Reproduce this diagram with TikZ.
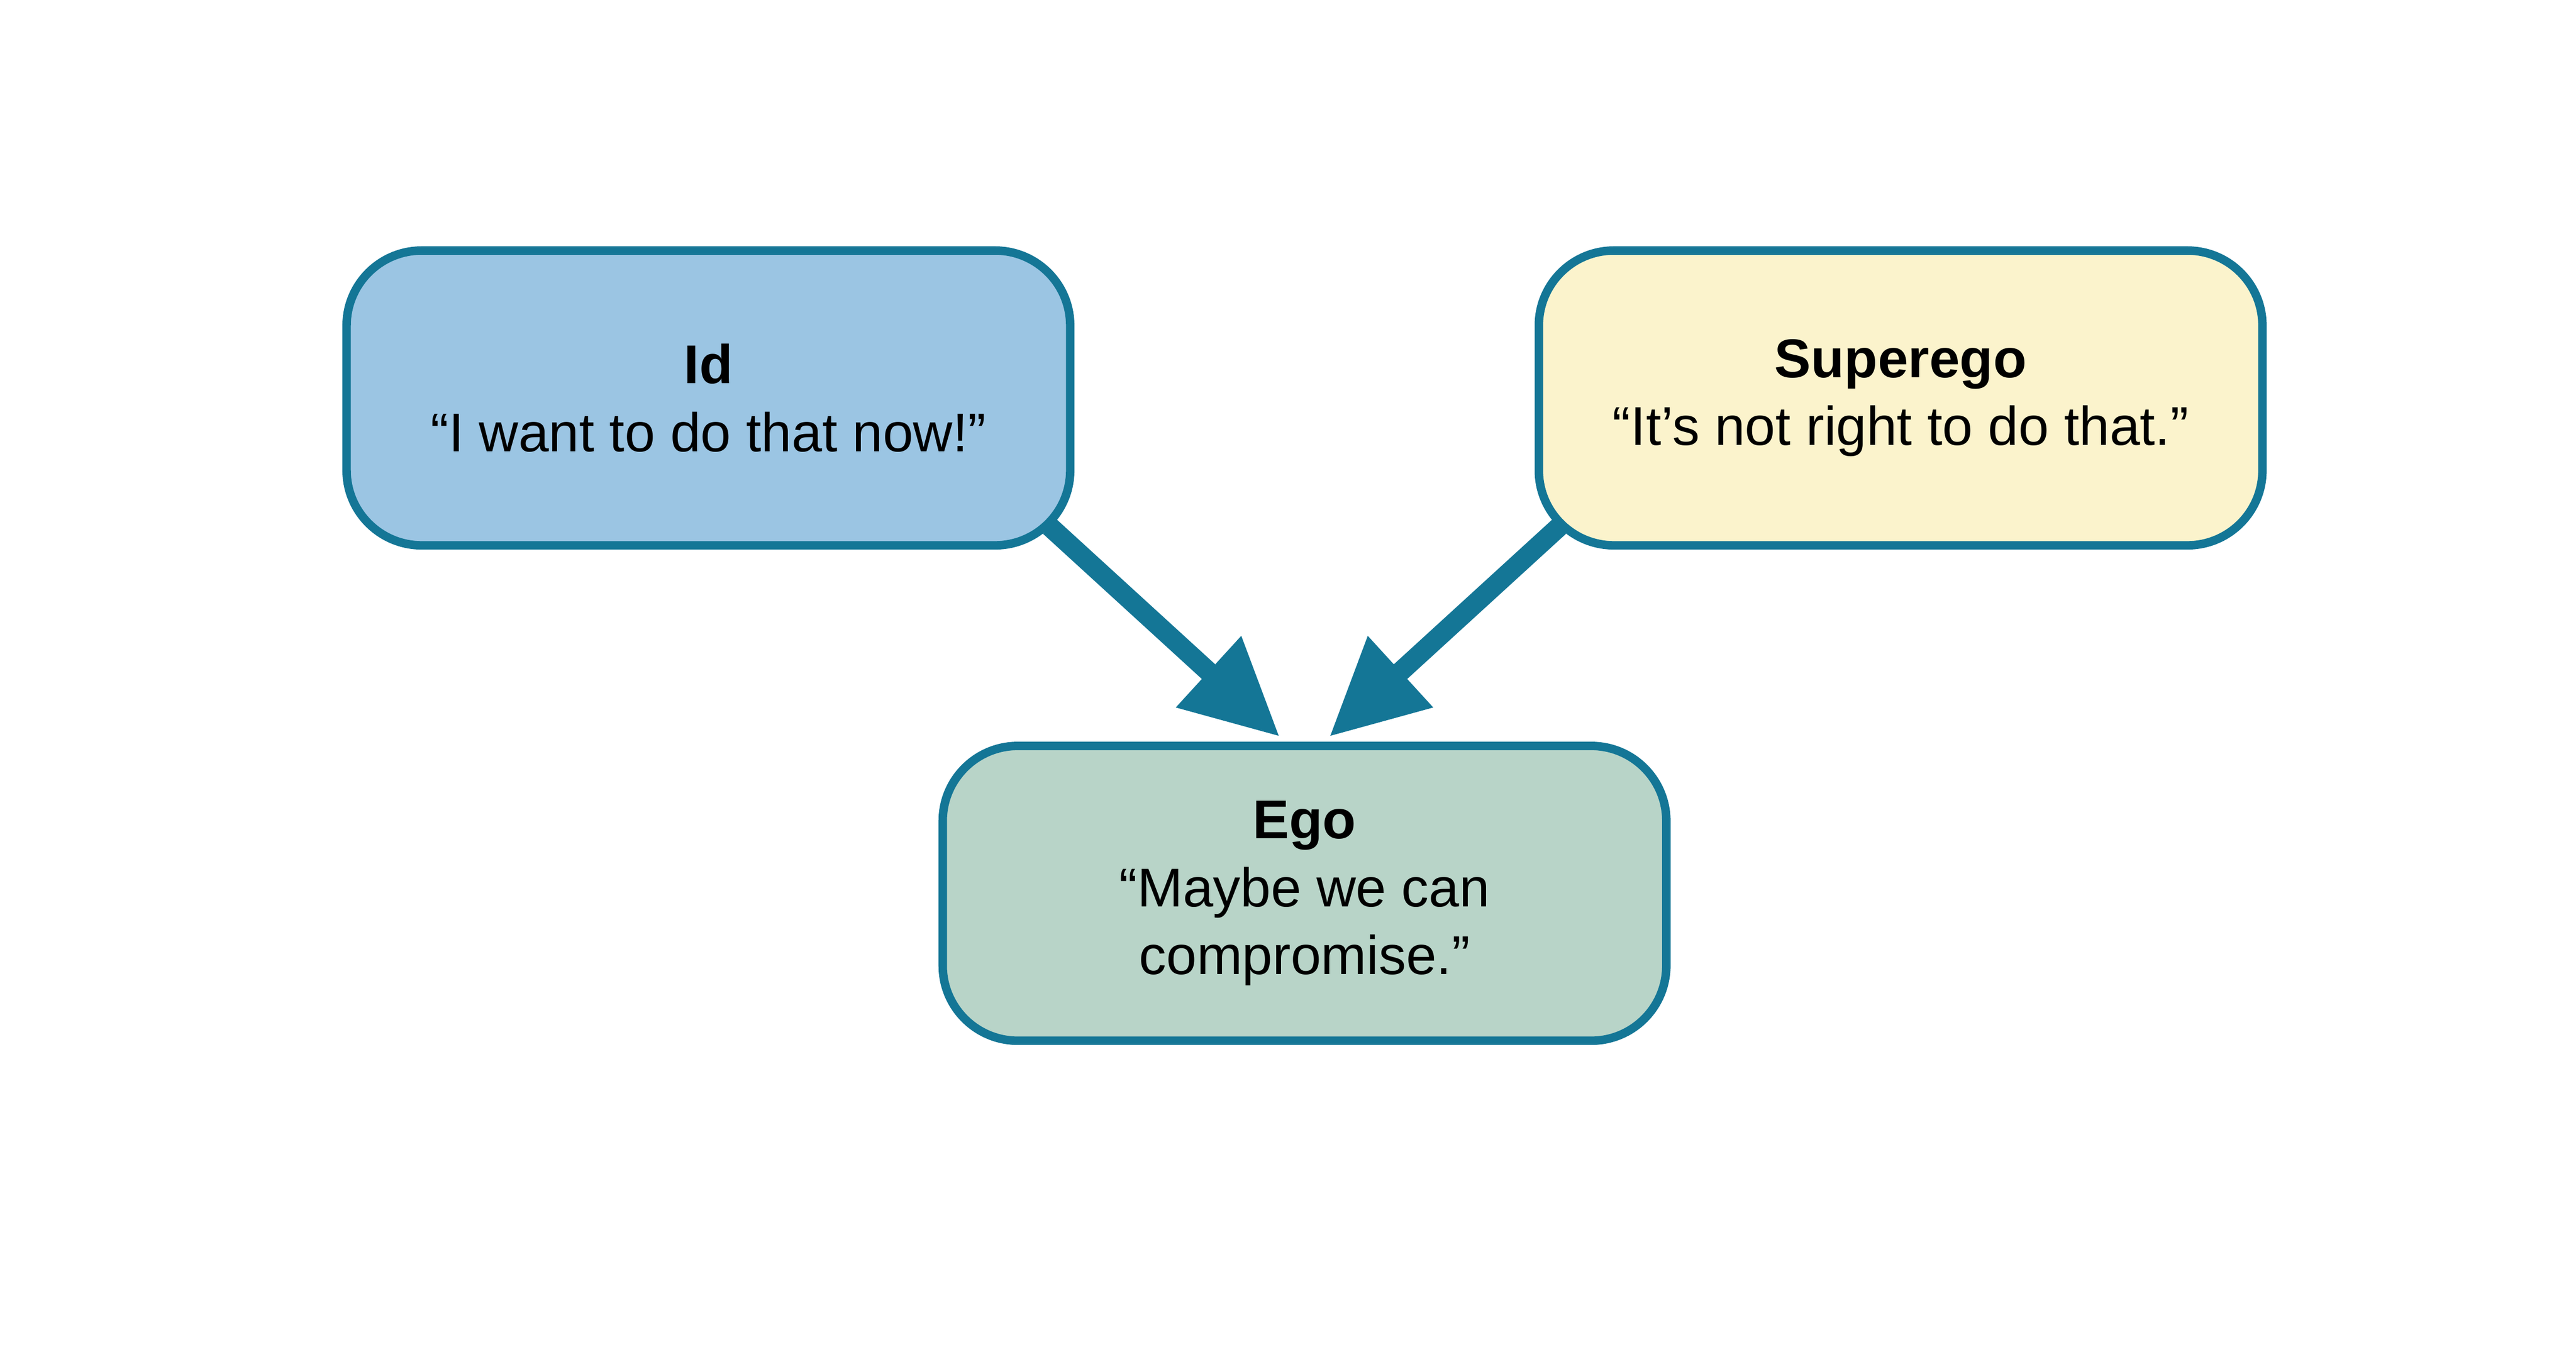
\documentclass[tikz,border=0pt]{standalone}
\usepackage{fontspec}
\setmainfont{Liberation Sans}
\usetikzlibrary{arrows.meta}
\definecolor{edge}{RGB}{20,118,150}
\definecolor{idfill}{RGB}{155,197,227}
\definecolor{superfill}{RGB}{251,243,204}
\definecolor{egofill}{RGB}{184,212,200}

\begin{document}
\begin{tikzpicture}[x=0.0308cm, y=-0.0308cm,
	part/.style={shape=rectangle, rounded corners=1.4cm, draw=edge, line width=4.5pt,
		minimum width=13.5cm, minimum height=5.5cm, align=center,
		font=\fontsize{29}{36}\selectfont},
	push/.style={draw=edge, line width=0.37cm, -{Triangle[length=1.8cm, width=1.7cm]}}]
	\useasboundingbox (0,0) rectangle (1560,829);
	\node [part, fill=idfill]		(id) at (429,241) {\textbf{Id}\\“I want to do that now!”};
	\node [part, fill=superfill]	(super) at (1151,241) {\textbf{Superego}\\“It’s not right to do that.”};
	\node [part, fill=egofill]		(ego) at (790,541) {\textbf{Ego}\\“Maybe we can\\compromise.”};
	\draw [push] ([shift={(-15,-14)}]id.south east) -- ([shift={(-15,-3)}]ego.north);
	\draw [push] ([shift={(15,-14)}]super.south west) -- ([shift={(15,-3)}]ego.north);
\end{tikzpicture}
\end{document}
